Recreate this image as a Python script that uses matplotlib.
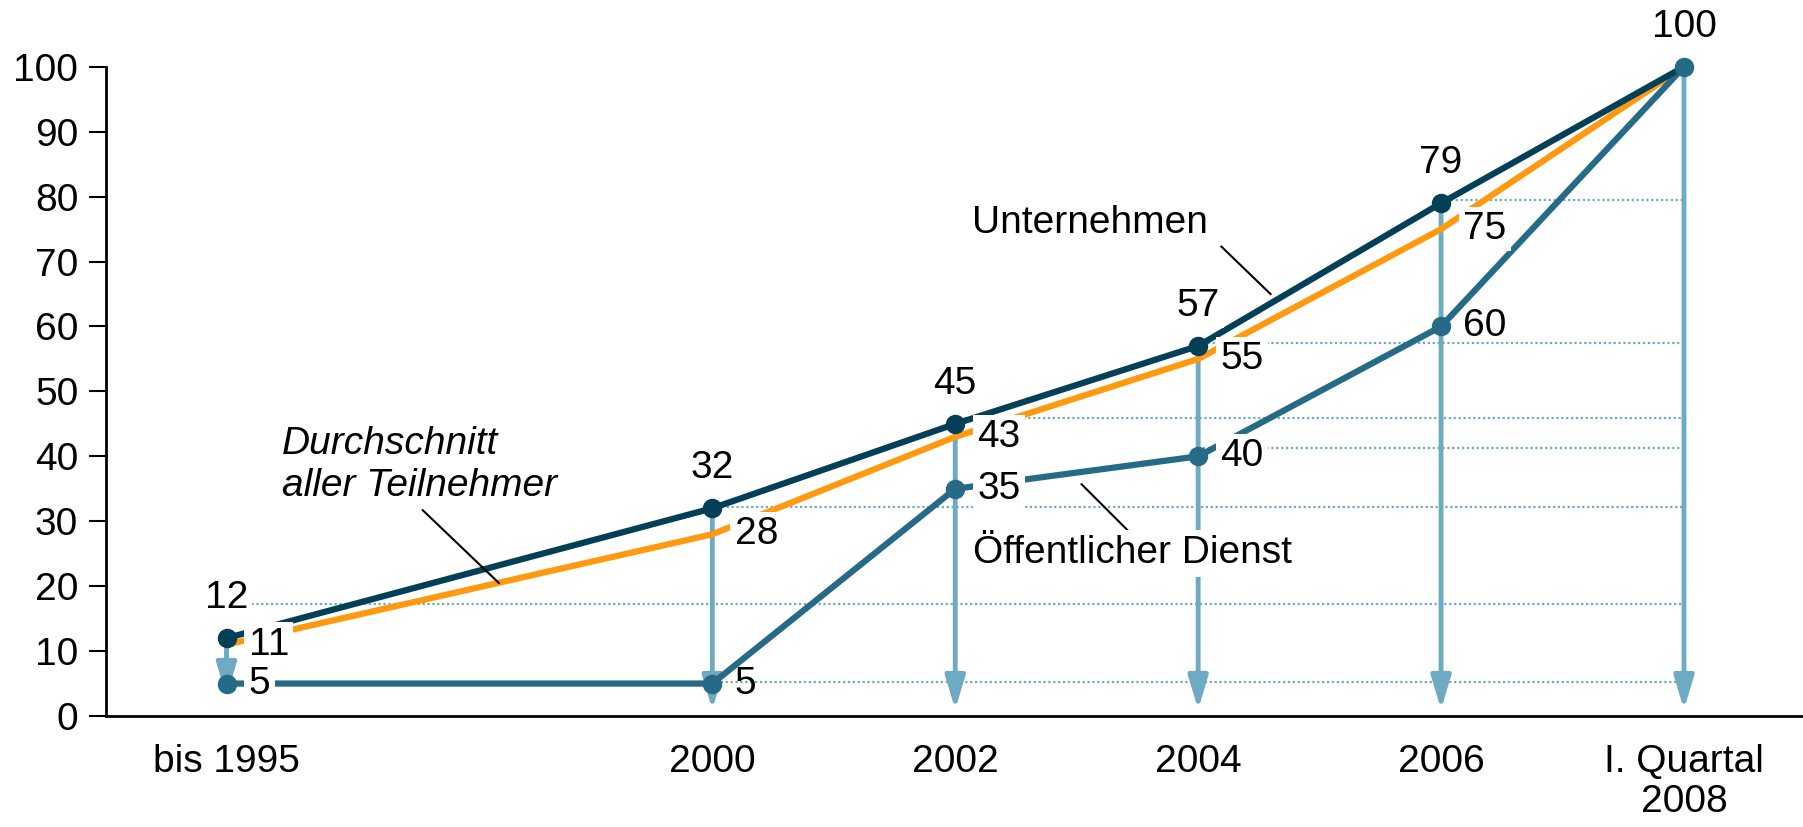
import matplotlib.pyplot as plt

plt.rcParams['font.family'] = ['Liberation Sans', 'DejaVu Sans']

labels = ["bis 1995", "2000", "2002", "2004", "2006", "I. Quartal\n2008"]
xpos = [0, 2, 3, 4, 5, 6]
unternehmen = [12, 32, 45, 57, 79, 100]
durchschnitt = [11, 28, 43, 55, 75, 100]
oeffentlich = [5, 5, 35, 40, 60, 100]
arrow_end = [3, 1, 1, 1, 1, 1]
# dotted guide lines: start position (index into xpos) and level
guide_start = [0, 0, 1, 2, 3, 3, 4]
guide_level = [5.2, 17.3, 32.2, 45.9, 41.3, 57.5, 79.5]

NAVY = "#033f57"
ORANGE = "#ff9a10"
TEAL = "#256b88"
LIGHT = "#6eaac2"
FS = 28

fig = plt.figure(figsize=(18.03, 8.27), dpi=100)
ax = fig.add_axes([0.0588, 0.1342, 0.9412, 0.785])
ax.set_xlim(-0.496, 6.49)
ax.set_ylim(0, 100)

for s, lev in zip(guide_start, guide_level):
    ax.plot([xpos[s], xpos[-1]], [lev, lev], ls=(0, (1, 1.2)), color=LIGHT, lw=1.6, zorder=1)

for x, top, end in zip(xpos, unternehmen, arrow_end):
    ax.annotate("", xy=(x, end), xytext=(x, top),
                arrowprops=dict(arrowstyle="-|>,head_length=1.0,head_width=0.3", mutation_scale=20,
                                color=LIGHT, lw=3.5, shrinkA=0, shrinkB=0),
                zorder=2, annotation_clip=False)

ax.plot(xpos, durchschnitt, color=ORANGE, lw=4.5, zorder=3, solid_capstyle='butt', clip_on=False)
ax.plot(xpos, oeffentlich, color=TEAL, lw=4.5, zorder=3, solid_capstyle='butt', clip_on=False)
ax.plot(xpos, unternehmen, color=NAVY, lw=4.5, zorder=3, solid_capstyle='butt', clip_on=False)

box = dict(fc='white', ec='none', pad=3)
for x, v in zip(xpos[:-1], durchschnitt[:-1]):
    ax.annotate(str(v), (x, v), xytext=(16, 0), textcoords='offset points', ha='left', va='center',
                fontsize=FS, bbox=box, zorder=5)
# the "5" at 2000 and the "60" sit on the line without a white box
for i, (x, v) in enumerate(zip(xpos[:-1], oeffentlich[:-1])):
    ax.annotate(str(v), (x, v), xytext=(16, 0), textcoords='offset points', ha='left', va='center',
                fontsize=FS, bbox=None if i in (1, 4) else box, zorder=5)
for x, v in zip(xpos, unternehmen):
    ax.annotate(str(v), (x, v), xytext=(0, 29), textcoords='offset points', ha='center', va='center',
                fontsize=FS, bbox=box, zorder=5, annotation_clip=False)

ax.plot(xpos[:-1], unternehmen[:-1], 'o', color=NAVY, ms=13, zorder=6)
ax.plot(xpos, oeffentlich, 'o', color=TEAL, ms=13, zorder=6, clip_on=False)

# series names with leader lines
ax.text(3.553, 76, "Unternehmen", fontsize=FS, ha='center', va='center', zorder=5)
ax.plot([4.096, 4.298], [72.3, 65.0], color='black', lw=1.5, zorder=4)
ax.text(3.73, 25.1, "Öffentlicher Dienst", fontsize=FS, ha='center', va='center',
        bbox=dict(fc='white', ec='none', pad=4), zorder=5)
ax.plot([3.52, 3.726], [35.7, 28.0], color='black', lw=1.5, zorder=4)
ax.text(0.228, 38.7, "Durchschnitt\naller Teilnehmer", fontsize=FS, style='italic',
        ha='left', va='center', zorder=5)
ax.plot([0.808, 1.121], [31.7, 20.5], color='black', lw=1.5, zorder=4)

for side in ['top', 'right']:
    ax.spines[side].set_visible(False)
ax.spines['left'].set_bounds(0, 100)
ax.spines['left'].set_linewidth(2)
ax.spines['bottom'].set_linewidth(2)

ax.set_yticks(range(0, 101, 10))
ax.tick_params(axis='y', length=12, width=1.5, pad=8, labelsize=FS)
ax.set_xticks(xpos)
ax.set_xticklabels(labels, fontsize=FS, linespacing=1.15)
ax.tick_params(axis='x', length=0, pad=20)

fig.savefig("out.png", dpi=100)
